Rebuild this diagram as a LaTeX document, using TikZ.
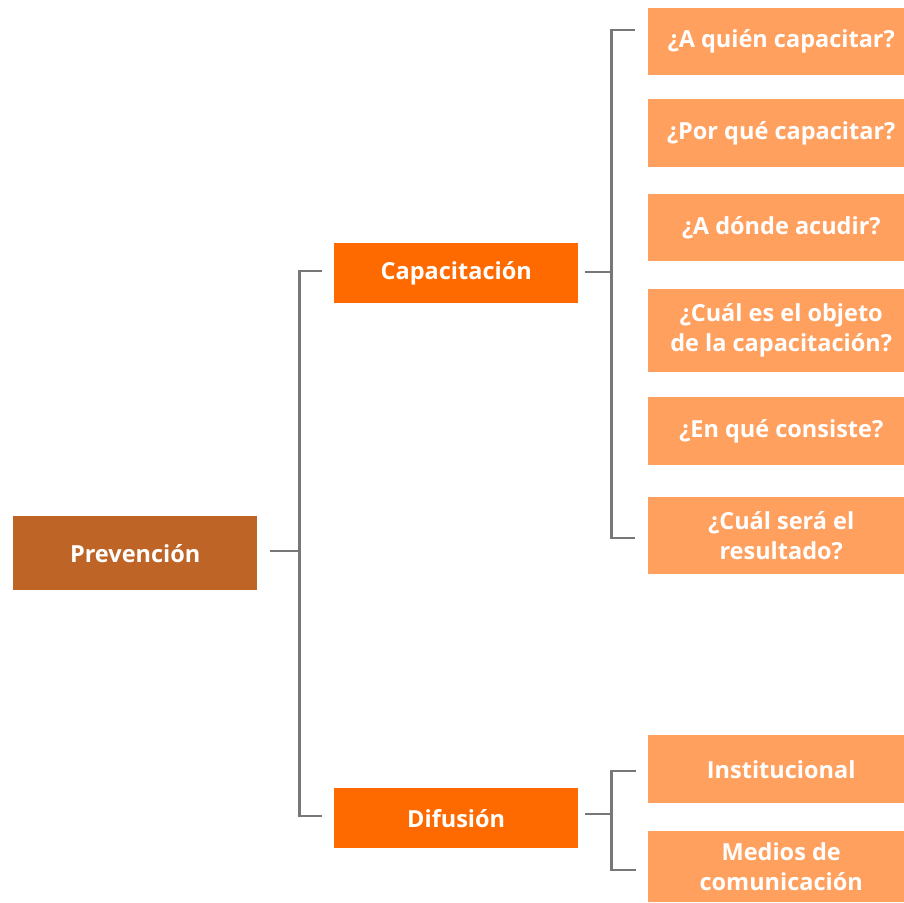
\documentclass[tikz,border=0pt]{standalone}
\usepackage{fontspec}
\setmainfont{Open Sans}
\definecolor{prevc}{HTML}{BF6427}
\definecolor{midc}{HTML}{FF6A00}
\definecolor{leafc}{HTML}{FFA05F}
\definecolor{linec}{HTML}{777777}
\begin{document}
\begin{tikzpicture}[x=1pt,y=-1pt,
  box/.style={anchor=north west,inner sep=0pt,text=white,font=\bfseries\fontsize{23.5}{30}\selectfont,align=center,
    execute at begin node={\vspace*{5pt}}},
  rootbox/.style={box,fill=prevc,minimum width=244pt,minimum height=74pt},
  midbox/.style={box,fill=midc,minimum width=244pt,minimum height=60pt},
  leafbox/.style={box,fill=leafc,minimum width=256pt},
  conn/.style={draw=linec,line width=2.5pt}]
\useasboundingbox (0,0) rectangle (904,902);
\node[rootbox] (prev) at (13,516) {Prevención};
\node[midbox] (cap) at (334,243) {Capacitación};
\node[midbox] (dif) at (334,788) {Difusión};
\node[leafbox,minimum height=67pt] (l1) at (648,8) {\hspace*{10pt}¿A quién capacitar?};
\node[leafbox,minimum height=68pt] (l2) at (648,99) {\hspace*{10pt}¿Por qué capacitar?};
\node[leafbox,minimum height=67pt] (l3) at (648,194) {\hspace*{10pt}¿A dónde acudir?};
\node[leafbox,minimum height=83pt] (l4) at (648,289) {\hspace*{10pt}¿Cuál es el objeto\\\hspace*{10pt}de la capacitación?};
\node[leafbox,minimum height=68pt] (l5) at (648,397) {\hspace*{10pt}¿En qué consiste?};
\node[leafbox,minimum height=77pt] (l6) at (648,497) {\hspace*{10pt}¿Cuál será el\\\hspace*{10pt}resultado?};
\node[leafbox,minimum height=68pt] (l7) at (648,735) {\hspace*{10pt}Institucional};
\node[leafbox,minimum height=71pt] (l8) at (648,831) {\hspace*{10pt}Medios de\\\hspace*{10pt}comunicación};
% level 1
\draw[conn] ([xshift=13pt,yshift=2pt]prev.east) -- ++(29,0) coordinate (j1);
\draw[conn] ([xshift=-12pt,yshift=2pt]cap.west) -| (j1) |- ([xshift=-12pt,yshift=2pt]dif.west);
% level 2 capacitacion
\draw[conn] ([xshift=7pt,yshift=1pt]cap.east) -- ++(26,0) coordinate (j2);
\draw[conn] ([xshift=-13pt,yshift=11.5pt]l1.west) -| (j2) |- ([xshift=-13pt,yshift=-2.5pt]l6.west);
% level 2 difusion
\draw[conn] ([xshift=7pt,yshift=4pt]dif.east) -- ++(26,0) coordinate (j3);
\draw[conn] ([xshift=-12pt,yshift=-2pt]l7.west) -| (j3) |- ([xshift=-12pt,yshift=-3.5pt]l8.west);
\end{tikzpicture}
\end{document}
